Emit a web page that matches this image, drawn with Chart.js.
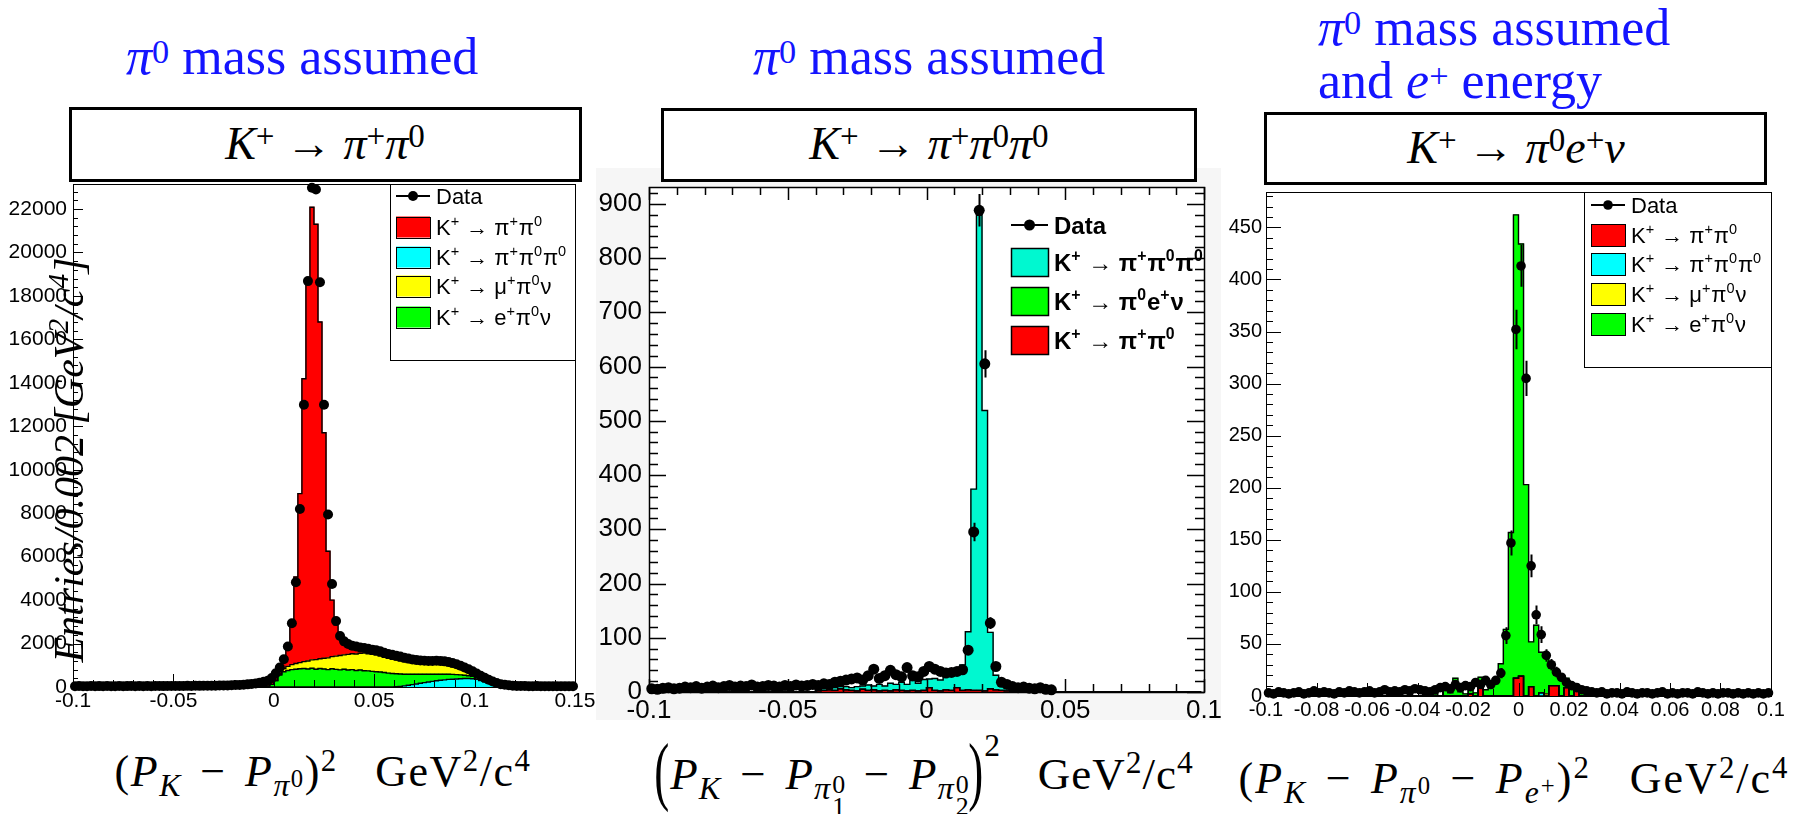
<!DOCTYPE html>
<html>
<head>
<meta charset="utf-8">
<script src="https://cdn.jsdelivr.net/npm/chart.js@4.4.1/dist/chart.umd.min.js"></script>
<style>
html,body{margin:0;padding:0;background:#fff;}
body{width:1794px;height:814px;position:relative;overflow:hidden;font-family:'Liberation Serif','Times New Roman',serif;color:#000;}
canvas{position:absolute;}
.t{position:absolute;white-space:nowrap;line-height:1;}
.blue{color:#1414ff;font-size:52px;}
.s{position:relative;font-size:.66em;top:-.32em;}
.bx{position:absolute;box-sizing:border-box;border:3px solid #000;background:#fff;}
.mt{font-size:46px;}
.up{position:relative;font-size:.72em;top:-.36em;}
.sp{position:relative;font-size:.7em;top:-.5em;}
.bsp{top:-1.05em;}
.sb{position:relative;font-size:.72em;top:.3em;}
.sbs{position:relative;font-size:.78em;top:-.35em;}
.bp{display:inline-block;transform:translateY(-3px) scale(1,1.7);}
.stk{position:relative;display:inline-block;width:.42em;height:0;}
.stk span{position:absolute;left:.04em;font-size:.8em;}
.stk .u{top:-1.05em;}
.stk .d{top:-.2em;}
.op{margin:0 .42em;}
</style>
</head>
<body>
<canvas id="c1" width="600" height="570" style="left:0;top:150px"></canvas>
<canvas id="c2" width="625" height="552" style="left:596px;top:168px"></canvas>
<canvas id="c3" width="572" height="550" style="left:1222px;top:170px"></canvas>

<div class="t blue" style="left:126px;top:30.5px"><i>π</i><span class="s">0</span> mass assumed</div>
<div class="t blue" style="left:753px;top:30.5px"><i>π</i><span class="s">0</span> mass assumed</div>
<div class="t blue" style="left:1318px;top:1.5px"><i>π</i><span class="s">0</span> mass assumed</div>
<div class="t blue" style="left:1318px;top:54.5px">and <i>e</i><span class="s">+</span> energy</div>

<div class="bx" style="left:69px;top:107px;width:513px;height:75px"></div>
<div class="t mt" style="left:325px;top:120.5px;transform:translateX(-50%)"><i>K</i><span class="up">+</span> → <i>π</i><span class="up">+</span><i>π</i><span class="up">0</span></div>
<div class="bx" style="left:661px;top:108px;width:536px;height:74px"></div>
<div class="t mt" style="left:929px;top:120.5px;transform:translateX(-50%)"><i>K</i><span class="up">+</span> → <i>π</i><span class="up">+</span><i>π</i><span class="up">0</span><i>π</i><span class="up">0</span></div>
<div class="bx" style="left:1264px;top:112px;width:503px;height:73px"></div>
<div class="t mt" style="left:1516px;top:124.5px;transform:translateX(-50%)"><i>K</i><span class="up">+</span> → <i>π</i><span class="up">0</span><i>e</i><span class="up">+</span><i>ν</i></div>

<div class="t" style="left:-181px;top:439px;width:500px;height:42px;text-align:center;font-size:42px;font-style:italic;transform:rotate(-90deg)">Entries/0.002 [GeV<span class="sp">2</span>/c<span class="sp">4</span>]</div>

<div class="t" style="left:323px;top:750px;font-size:44px;letter-spacing:1.5px;transform:translateX(-50%)">(<i>P</i><span class="sb"><i>K</i></span><span class="op">−</span><i>P</i><span class="sb"><i>π</i><span class="sbs">0</span></span>)<span class="sp">2</span>&nbsp;&nbsp;&nbsp;GeV<span class="sp">2</span>/c<span class="sp">4</span></div>
<div class="t" style="left:924px;top:752px;font-size:45px;letter-spacing:1px;transform:translateX(-50%)"><span class="bp">(</span><i>P</i><span class="sb"><i>K</i></span><span class="op">−</span><i>P</i><span class="sb"><i>π</i><span class="stk"><span class="u">0</span><span class="d">1</span></span></span><span class="op">−</span><i>P</i><span class="sb"><i>π</i><span class="stk"><span class="u">0</span><span class="d">2</span></span></span><span class="bp">)</span><span class="sp bsp">2</span>&nbsp;&nbsp;&nbsp;GeV<span class="sp">2</span>/c<span class="sp">4</span></div>
<div class="t" style="left:1514px;top:757px;font-size:44px;letter-spacing:2px;transform:translateX(-50%)">(<i>P</i><span class="sb"><i>K</i></span><span class="op">−</span><i>P</i><span class="sb"><i>π</i><span class="sbs">0</span></span><span class="op">−</span><i>P</i><span class="sb"><i>e</i><span class="sbs">+</span></span>)<span class="sp">2</span>&nbsp;&nbsp;&nbsp;GeV<span class="sp">2</span>/c<span class="sp">4</span></div>

<script>
// ---------- K+ -> pi+ pi0 selection : (P_K - P_pi0)^2, 125 bins of 0.002 from -0.1 ----------
const data1 = [
  38,42,35,40,45,37,41,39,44,36,40,43,38,41,46,39,42,37,44,40,43,45,41,48,44,47,50,46,52,49,55,53,58,56,60,
  62,66,70,74,80,88,96,108,122,140,165,200,240,290,410,630,900,1280,1860,2930,4820,8190,12990,18680,22980,
  22900,18630,12990,7940,4740,3040,2350,2100,1980,1900,1860,1820,1790,1760,1720,1690,1640,1580,1520,1480,
  1440,1400,1350,1310,1270,1240,1220,1210,1200,1200,1210,1200,1180,1150,1100,1050,980,900,820,720,
  620,520,420,330,250,180,130,100,80,62,50,
  45,42,40,38,41,36,39,37,40,35,38,36,39,37
];
const pipi0_1 = [
  34,37,33,36,38,35,36,34,37,35,36,38,35,37,39,36,37,35,38,36,38,39,37,40,38,40,41,39,42,41,43,42,44,43,45,
  48,52,56,60,66,74,84,96,110,128,152,185,220,250,300,340,340,500,1000,1970,3980,7780,13020,17590,20830,
  20040,15500,10380,4910,2600,1430,750,470,380,300,270,210,170,170,170,170,180,170,170,170,
  170,180,180,170,160,150,150,150,150,150,150,150,150,150,140,140,130,110,100,80,
  70,60,50,50,40,40,40,40,38,36,35,
  34,33,35,32,34,33,31,33,32,34,31,33,32,30
];
const epi0nu_1 = [
  0,0,0,0,0,0,0,0,0,0, 0,0,0,0,0,0,0,0,0,0, 0,0,0,0,0,0,0,0,0,0, 0,0,0,0,0,0,0,0,0,0, 0,0,0,0,0,0,0,
  10,40,120,300,550,700,760,800,820,840,850,830,860,820,850,830,800,840,810,790,
  820,780,800,760,780,750,740,720,700,690,670,640,620,600,570,540,510,480,450,420,
  390,360,330,300,280,260,240,220,200,180,150,130,110,90,70,50,30,20,10,
  0,0,0,0,0,0,0,0,0,0, 0,0,0,0,0,0,0,0,0
];
const mupi0nu_1 = [
  0,0,0,0,0,0,0,0,0,0, 0,0,0,0,0,0,0,0,0,0, 0,0,0,0,0,0,0,0,0,0, 0,0,0,0,0,0,0,0,0,0, 0,0,0,0,0,0,0,0,0,0, 0,
  50,150,190,230,260,280,320,370,390,440,450,490,540,560,610,660,660,720,730,760,
  770,810,790,780,770,730,700,680,660,630,600,570,540,510,490,470,460,450,450,450,
  440,420,390,360,320,270,230,180,130,90,70,60,50,50,40,40,30,20,10,
  0,0,0,0,0,0,0,0,0,0, 0,0,0,0,0
];
const pipi0pi0_1 = [
  0,0,0,0,0,0,0,0,0,0, 0,0,0,0,0,0,0,0,0,0, 0,0,0,0,0,0,0,0,0,0, 0,0,0,0,0,0,0,0,0,0,
  0,0,0,0,0,0,0,0,0,0, 0,0,0,0,0,0,0,0,0,0, 0,0,0,0,0,0,0,0,0,0, 0,0,0,0,0,0,0,0,0,0,
  10,30,50,80,110,140,170,200,230,260,290,310,330,350,360,370,380,390,390,380,
  350,300,240,180,120,80,40,20,10,
  0,0,0,0,0,0,0,0,0,0, 0,0,0,0,0,0
];
const xTicks1 = [-0.1, -0.05, 0, 0.05, 0.1, 0.15];
const yTicks1 = [0, 2000, 4000, 6000, 8000, 10000, 12000, 14000, 16000, 18000, 20000, 22000];

// ---------- K+ -> pi+ pi0 pi0 selection : 100 bins of 0.002 from -0.1 ----------
const data2 = [
  6,5,7,8,6,7,9,8,10,7,9,11,8,10,12,9,11,10,13,9,10,12,11,9,12,10,13,11,12,14,
  12,15,14,18,20,22,24,26,22,30,42,25,30,40,32,28,45,30,28,38,47,42,38,35,36,38,41,77,295,888,
  605,127,47,18,14,10,8,9,7,6,8,5,4,
  null,null,null,null,null,null,null,null,null,null,null,null,null,null,null,null,null,null,null,null,
  null,null,null,null,null,null,null
];
const dataErr2 = [[0.015, 9], [0.017, 17], [0.019, 30], [0.021, 25], [0.023, 11], [0.025, 7]];
const pipi0pi0_2 = [
  0,0,0,0,0,0,0,0,0,0, 0,0,0,0,0,0,0,0,0,0, 0,0,0,0,0,0,0,0,0,0,
  2,4,3,5,4,6,5,8,6,10,7,12,8,14,10,15,12,18,14,20,16,22,20,25,28,35,47,107,371,876,
  517,104,27,12,6,3,2,1,
  0,0,0,0,0,0,0,0,0,0, 0,0,0,0,0,0,0,0,0,0, 0,0,0,0,0,0,0,0,0,0, 0,0
];
const pi0enu_2 = [
  0,0,0,0,0,0,0,0,0,0, 0,0,0,0,0,0,0,0,0,0, 0,0,0,0,0,0,0,0,0,0, 0,0,0,0,0,0,0,0,0,0,
  0,0,0,0,0,0,0,0,0,0, 0,0,0,0,0,0,0,0,0,0, 0,0,0,0,0,0,0,0,0,0, 0,0,0,0,0,0,0,0,0,0,
  0,0,0,0,0,0,0,0,0,0, 0,0,0,0,0,0,0,0,0,0
];
const pipi0_2 = [
  0,0,0,0,0,0,0,0,0,0, 0,0,0,0,0,0,0,0,0,0, 0,0,0,0,0,0,0,0,0,0,
  2,3,4,3,6,4,3,2,5,3,4,2,3,2,4,3,2,3,2,3,8,3,2,4,3,8,3,4,3,3,2,6,4,3,2,1,
  0,0,0,0,0,0,0,0,0,0, 0,0,0,0,0,0,0,0,0,0, 0,0,0,0,0,0,0,0,0,0, 0,0,0,0
];
const xTicks2 = [-0.1, -0.05, 0, 0.05, 0.1];
const yTicks2 = [0, 100, 200, 300, 400, 500, 600, 700, 800, 900];

// ---------- K+ -> pi0 e+ nu selection : 100 bins of 0.002 from -0.1 ----------
const data3 = [
  3,2,4,3,2,3,4,2,3,5,3,4,3,2,4,3,5,4,3,4,5,3,4,6,4,
  5,4,6,5,7,6,5,4,6,8,9,7,11,8,10,9,13,11,15,11,15,22,58,147,352,413,305,125,78,59,39,30,23,18,13,10,8,6,5,4,
  3,4,2,3,3,2,4,3,2,3,3,2,3,4,2,3,2,3,3,2,4,3,2,3,2,3,3,2,3,2,3,2,3,2,3
];
const dataErr3 = [[-0.007, 5], [-0.005, 8], [-0.003, 12], [-0.001, 19], [0.001, 20], [0.003, 17], [0.005, 11],
                  [0.007, 9], [0.009, 8], [0.011, 6], [0.013, 5.5], [0.015, 5], [0.017, 4], [0.019, 4]];
const pipi0_3 = [
  0,0,0,0,0,0,0,0,0,0, 0,0,0,0,0,0,0,0,0,0, 0,0,0,0,0,0,0,0,0,0, 0,0,0,0,0,0,0,0,0,0,
  2,0,9,0,0,0,0,0,0,17,19,0,9,0,0,0,10,10,0,8,0,6,
  0,0,0,0,0,0,0,0,0,0, 0,0,0,0,0,0,0,0,0,0, 0,0,0,0,0,0,0,0,0,0, 0,0,0,0,0,0,0,0
];
const pipi0pi0_3 = [
  0,0,0,0,0,0,0,0,0,0, 0,0,0,0,0,0,0,0,0,0, 0,0,0,0,0,0,0,0,0,0, 0,0,0,0,0,0,0,0,0,0,
  0,0,0,0,0,0,0,0,0,0, 0,0,0,0,3,0,0,0,0,0, 0,0,0,0,0,0,0,0,0,0, 0,0,0,0,0,0,0,0,0,0,
  0,0,0,0,0,0,0,0,0,0, 0,0,0,0,0,0,0,0,0,0
];
const mupi0nu_3 = [
  0,0,0,0,0,0,0,0,0,0, 0,0,0,0,0,0,0,0,0,0, 0,0,0,0,0,0,0,0,0,0, 0,0,0,0,0,0,0,0,0,0,
  0,0,0,0,0,0,0,0,0,0, 0,0,0,0,0,2,0,0,0,0, 0,0,0,0,0,0,0,0,0,0, 0,0,0,0,0,0,0,0,0,0,
  0,0,0,0,0,0,0,0,0,0, 0,0,0,0,0,0,0,0,0,0
];
const epi0nu_3 = [
  0,0,0,0,0,0,0,0,0,0, 0,0,0,0,0,0,0,0,0,0, 0,0,0,0,0,0,0,0,
  2,0,0,3,0,2,0,11,3,17,4,2,5,3,9,6,8,12,31,64,157,445,415,203,43,68,39,36,18,12,19,9,8,5,4,2,0,2,
  0,0,0,0,0,0,0,0,0,0, 0,0,0,0,0,0,0,0,0,0, 0,0,0,0,0,0,0,0,0,0, 0,0,0,0
];
const xTicks3 = [-0.1, -0.08, -0.06, -0.04, -0.02, 0, 0.02, 0.04, 0.06, 0.08, 0.1];
const yTicks3 = [0, 50, 100, 150, 200, 250, 300, 350, 400, 450];

// decay channel labels (^{..} marks a superscript)
const L_PIPI0 = 'K^{+} → π^{+}π^{0}';
const L_3PI = 'K^{+} → π^{+}π^{0}π^{0}';
const L_MU = 'K^{+} → μ^{+}π^{0}ν';
const L_E = 'K^{+} → e^{+}π^{0}ν';
const L_PI0E = 'K^{+} → π^{0}e^{+}ν';

const RED = '#ff0000', CYAN = '#00ffff', YELLOW = '#ffff00', GREEN = '#00ff00', TEAL = '#00f8d0';
const SANS = "'Liberation Sans', Arial, Helvetica, sans-serif";

// text with ^{...} superscripts drawn onto a canvas
function drawRich(ctx, text, x, y, size, weight) {
  const parts = [];
  const re = /\^\{([^}]*)\}/g;
  let last = 0, m;
  while ((m = re.exec(text)) !== null) {
    if (m.index > last) parts.push([text.slice(last, m.index), false]);
    parts.push([m[1], true]);
    last = re.lastIndex;
  }
  if (last < text.length) parts.push([text.slice(last), false]);
  ctx.textAlign = 'left';
  ctx.textBaseline = 'alphabetic';
  ctx.fillStyle = '#000';
  for (const [t, sup] of parts) {
    const s = sup ? size * 0.66 : size;
    ctx.font = `${weight} ${s}px ${SANS}`;
    ctx.fillText(t, x, sup ? y - size * 0.42 : y);
    x += ctx.measureText(t).width + (sup ? size * 0.04 : 0);
  }
}

// frame, inward ticks and error bars in the ROOT style
const rootStyle = {
  id: 'rootStyle',
  beforeDraw(chart, args, o) {
    const {ctx, chartArea: a} = chart;
    ctx.save();
    if (o.pageFill) { ctx.fillStyle = o.pageFill; ctx.fillRect(0, 0, chart.width, chart.height); }
    ctx.fillStyle = '#fff';
    ctx.fillRect(a.left, a.top, a.right - a.left, a.bottom - a.top);
    ctx.restore();
  },
  afterDatasetsDraw(chart, args, o) {
    const {ctx, chartArea: a, scales: {x, y}} = chart;
    ctx.save();
    ctx.strokeStyle = '#000';
    // vertical error bars on the data points
    chart.data.datasets.forEach(ds => {
      if (ds.type !== 'scatter') return;
      ctx.lineWidth = o.errWidth;
      ctx.beginPath();
      ds.data.forEach(pt => {
        if (!pt.e) return;
        const px = Math.round(x.getPixelForValue(pt.x)) + 0.5;
        ctx.moveTo(px, y.getPixelForValue(pt.y - pt.e));
        ctx.lineTo(px, y.getPixelForValue(pt.y + pt.e));
      });
      ctx.stroke();
    });
    ctx.lineWidth = o.lineWidth;
    const ticks = (scale, cfg, horizontal) => {
      const n = Math.floor((scale.max - scale.min) / cfg.minor + 1e-6);
      ctx.beginPath();
      for (let k = 0; k <= n; k++) {
        const v = scale.min + k * cfg.minor;
        const r = (v - cfg.origin) / cfg.major;
        const len = Math.abs(r - Math.round(r)) < 1e-6 ? cfg.majorLen : cfg.minorLen;
        const p = Math.round(scale.getPixelForValue(v)) + 0.5;
        if (horizontal) {
          if (cfg.bottom) { ctx.moveTo(p, a.bottom); ctx.lineTo(p, a.bottom - len); }
          if (cfg.top) { ctx.moveTo(p, a.top); ctx.lineTo(p, a.top + len); }
        } else {
          if (cfg.left) { ctx.moveTo(a.left, p); ctx.lineTo(a.left + len, p); }
          if (cfg.right) { ctx.moveTo(a.right, p); ctx.lineTo(a.right - len, p); }
        }
      }
      ctx.stroke();
    };
    ticks(x, o.xTicks, true);
    ticks(y, o.yTicks, false);
    ctx.strokeRect(Math.round(a.left) + 0.5, Math.round(a.top) + 0.5,
                   Math.round(a.right - a.left), Math.round(a.bottom - a.top));
    ctx.restore();
  }
};

// legend drawn from the chart's own datasets
const rootLegend = {
  id: 'rootLegend',
  afterDraw(chart, args, o) {
    if (!o.entries) return;
    const ctx = chart.ctx;
    ctx.save();
    if (o.box) {
      ctx.fillStyle = '#fff';
      ctx.fillRect(o.box[0], o.box[1], o.box[2], o.box[3]);
      ctx.strokeStyle = '#000';
      ctx.lineWidth = 1;
      ctx.strokeRect(o.box[0] + 0.5, o.box[1] + 0.5, o.box[2], o.box[3]);
    }
    o.entries.forEach((label, k) => {
      const ds = chart.data.datasets.find(d => d.label === label);
      const cy = o.rows[k];
      const [sx0, sx1] = o.sym;
      if (ds.type === 'scatter') {
        ctx.strokeStyle = '#000';
        ctx.lineWidth = 2;
        ctx.beginPath();
        ctx.moveTo(sx0, cy); ctx.lineTo(sx1, cy);
        ctx.stroke();
        ctx.fillStyle = '#000';
        ctx.beginPath();
        ctx.arc((sx0 + sx1) / 2, cy, ds.pointRadius, 0, Math.PI * 2);
        ctx.fill();
      } else {
        const h = o.boxH;
        ctx.fillStyle = ds.backgroundColor;
        ctx.fillRect(sx0, cy - h / 2, sx1 - sx0, h);
        ctx.strokeStyle = '#000';
        ctx.lineWidth = o.boxLine;
        ctx.strokeRect(sx0 + 0.5, Math.round(cy - h / 2) + 0.5, sx1 - sx0, h);
      }
      drawRich(ctx, label, o.textX, cy + o.size * 0.36, o.size, o.weight);
    });
    ctx.restore();
  }
};

const fmt = v => String(+Number(v).toFixed(4));

function buildChart(id, p) {
  const n = p.data.length;
  p.stack.forEach(s => { if (s.values.length !== n) throw new Error(id + ' length ' + s.label); });
  const centres = Array.from({length: n}, (_, i) => +(p.lo + p.width * (i + 0.5)).toFixed(4));
  const datasets = [];
  // filled stack, lowest component first
  p.stack.forEach(s => datasets.push({
    type: 'bar', label: s.label,
    data: s.values.map((v, i) => ({x: centres[i], y: v === 0 ? null : v})),
    backgroundColor: s.color, borderWidth: 0, inflateAmount: 0.5,
    barPercentage: 1, categoryPercentage: 1, stack: 'mc', order: 3
  }));
  // black step outline of each cumulative layer
  let cum = centres.map(() => 0);
  p.stack.forEach((s, k) => {
    cum = cum.map((c, i) => c + s.values[i]);
    datasets.push({
      type: 'line', label: 'outline' + k, data: cum.map((v, i) => ({x: centres[i], y: v})),
      stepped: 'middle', borderColor: '#000', borderWidth: p.outline, pointRadius: 0,
      fill: false, stack: 'outline' + k, order: 2
    });
  });
  const errOf = c => { const e = p.errors.find(r => Math.abs(r[0] - c) < 1e-6); return e ? e[1] : 0; };
  datasets.push({
    type: 'scatter', label: 'Data',
    data: p.data.map((v, i) => v == null ? null : {x: centres[i], y: v, e: errOf(centres[i])}).filter(Boolean),
    pointRadius: p.marker, pointBackgroundColor: '#000', pointBorderWidth: 0, borderColor: '#000',
    backgroundColor: '#000', stack: 'data', order: 1, clip: false
  });

  const tickFont = {family: SANS, size: p.tickSize};
  return new Chart(document.getElementById(id), {
    type: 'bar',
    data: {datasets},
    plugins: [rootStyle, rootLegend],
    options: {
      responsive: false, animation: false, events: [],
      layout: {padding: {top: p.padT, right: p.padR, left: 0, bottom: 0}},
      plugins: {
        legend: {display: false}, tooltip: {enabled: false},
        rootStyle: {pageFill: p.pageFill, lineWidth: p.frameWidth, errWidth: p.errWidth, xTicks: p.xTickMarks, yTicks: p.yTickMarks},
        rootLegend: p.legend
      },
      scales: {
        x: {
          type: 'linear', min: p.xMin, max: p.xMax, offset: false, stacked: true,
          grid: {display: false, drawTicks: false, offset: false}, border: {display: false},
          ticks: {autoSkip: false, maxRotation: 0, minRotation: 0, padding: p.xPad, color: '#000', font: tickFont, callback: fmt},
          afterBuildTicks: ax => { ax.ticks = p.xTicks.map(v => ({value: v})); },
          afterFit: ax => { ax.height = p.xH; ax.paddingLeft = 0; ax.paddingRight = 0; }
        },
        y: {
          type: 'linear', min: 0, max: p.yMax, stacked: true,
          grid: {display: false, drawTicks: false}, border: {display: false},
          ticks: {autoSkip: false, padding: p.yPad, color: '#000', font: tickFont, callback: fmt},
          afterBuildTicks: ax => { ax.ticks = p.yTicks.map(v => ({value: v})); },
          afterFit: ax => { ax.width = p.yW; ax.paddingTop = 0; ax.paddingBottom = 0; }
        }
      }
    }
  });
}

buildChart('c1', {
  lo: -0.1, width: 0.002, xMin: -0.1, xMax: 0.15, yMax: 23150,
  data: data1, errors: [],
  stack: [
    {label: L_3PI, values: pipi0pi0_1, color: CYAN},
    {label: L_E, values: epi0nu_1, color: GREEN},
    {label: L_MU, values: mupi0nu_1, color: YELLOW},
    {label: L_PIPI0, values: pipi0_1, color: RED}
  ],
  xTicks: xTicks1, yTicks: yTicks1,
  padT: 34, padR: 25, yW: 73, xH: 33, xPad: 2, yPad: 6, tickSize: 21,
  marker: 5, outline: 1.4, frameWidth: 1, errWidth: 2,
  xTickMarks: {origin: 0, major: 0.05, minor: 0.01, majorLen: 13, minorLen: 7, bottom: true},
  yTickMarks: {origin: 0, major: 2000, minor: 400, majorLen: 10, minorLen: 5, left: true},
  legend: {box: [390, 34, 185, 176], rows: [46, 77, 107, 136, 167], sym: [396, 430], textX: 436,
           boxH: 21, boxLine: 1, size: 22, weight: 'normal',
           entries: ['Data', L_PIPI0, L_3PI, L_MU, L_E]}
});

buildChart('c2', {
  lo: -0.1, width: 0.002, xMin: -0.1, xMax: 0.1, yMax: 931,
  data: data2, errors: dataErr2,
  stack: [
    {label: L_PIPI0, values: pipi0_2, color: RED},
    {label: L_PI0E, values: pi0enu_2, color: GREEN},
    {label: L_3PI, values: pipi0pi0_2, color: TEAL}
  ],
  xTicks: xTicks2, yTicks: yTicks2, pageFill: '#f6f6f6',
  padT: 19, padR: 17, yW: 53, xH: 28, xPad: 3, yPad: 7, tickSize: 26,
  marker: 5.5, outline: 1.4, frameWidth: 1.5, errWidth: 2,
  xTickMarks: {origin: 0, major: 0.05, minor: 0.01, majorLen: 13, minorLen: 8, bottom: true, top: true},
  yTickMarks: {origin: 0, major: 100, minor: 20, majorLen: 17, minorLen: 9, left: true, right: true},
  legend: {rows: [57, 94, 133, 172], sym: [415, 452], textX: 458,
           boxH: 28, boxLine: 1.5, size: 24, weight: 'bold',
           entries: ['Data', L_3PI, L_PI0E, L_PIPI0]}
});

buildChart('c3', {
  lo: -0.1, width: 0.002, xMin: -0.1, xMax: 0.1, yMax: 484,
  data: data3, errors: dataErr3,
  stack: [
    {label: L_PIPI0, values: pipi0_3, color: RED},
    {label: L_3PI, values: pipi0pi0_3, color: CYAN},
    {label: L_MU, values: mupi0nu_3, color: YELLOW},
    {label: L_E, values: epi0nu_3, color: GREEN}
  ],
  xTicks: xTicks3, yTicks: yTicks3,
  padT: 22, padR: 23, yW: 44, xH: 24, xPad: 2, yPad: 4, tickSize: 20,
  marker: 4.8, outline: 1.4, frameWidth: 1, errWidth: 2,
  xTickMarks: {origin: 0, major: 0.02, minor: 0.01, majorLen: 13, minorLen: 7, bottom: true},
  yTickMarks: {origin: 0, major: 50, minor: 10, majorLen: 15, minorLen: 7, left: true},
  legend: {box: [362, 22, 187, 175], rows: [35, 65, 94, 124, 154], sym: [369, 403], textX: 409,
           boxH: 22, boxLine: 1, size: 22, weight: 'normal',
           entries: ['Data', L_PIPI0, L_3PI, L_MU, L_E]}
});
</script>
</body>
</html>
